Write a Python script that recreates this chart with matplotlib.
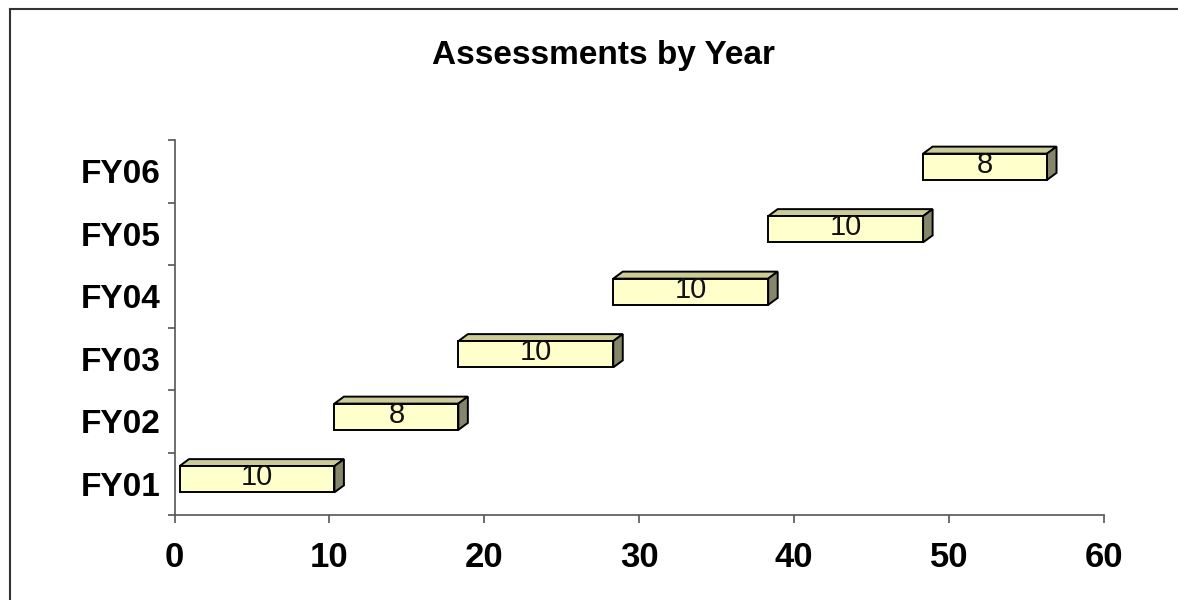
import matplotlib
matplotlib.use("Agg")
import matplotlib.pyplot as plt
from matplotlib.patches import Polygon, Rectangle
from matplotlib.lines import Line2D

# Assessment schedule: each fiscal year starts where the previous one ends
years = ["FY01", "FY02", "FY03", "FY04", "FY05", "FY06"]
starts = [0, 10, 18, 28, 38, 48]
counts = [10, 8, 10, 10, 10, 8]
x_ticks = [0, 10, 20, 30, 40, 50, 60]

FRONT = "#FFFFCC"
TOP = "#CCCC99"
SIDE = "#86866A"
EDGE = "#000000"
AXIS = "#555555"

plt.rcParams['font.family'] = ['Liberation Sans', 'DejaVu Sans']

W, H = 1178, 600
fig = plt.figure(figsize=(W / 100, H / 100), dpi=100)
ax = fig.add_axes([174.5 / W, 85 / H, (1104 - 174.5) / W, 375 / H])
ax.set_xlim(0, 60)
ax.set_ylim(-0.5, len(years) - 0.5)

# pixel sizes of the 3-D look, converted to data units
ppx = ax.bbox.width / 60
ppy = ax.bbox.height / len(years)
shift_x, shift_y = 5 / ppx, 4.5 / ppy
depth_x, depth_y = 9.5 / ppx, 7 / ppy
label_lift = 2 / ppy
bar_h = 0.42

for i, (s, c) in enumerate(zip(starts, counts)):
    x0 = s + shift_x
    x1 = s + c + shift_x
    yb = i + shift_y - bar_h / 2
    yt = i + shift_y + bar_h / 2
    # top face
    ax.add_patch(Polygon([(x0, yt), (x1, yt), (x1 + depth_x, yt + depth_y),
                          (x0 + depth_x, yt + depth_y)], closed=True,
                         facecolor=TOP, edgecolor=EDGE, lw=1.4, zorder=3,
                         joinstyle='miter', clip_on=False))
    # side face
    ax.add_patch(Polygon([(x1, yb), (x1, yt), (x1 + depth_x, yt + depth_y),
                          (x1 + depth_x, yb + depth_y)], closed=True,
                         facecolor=SIDE, edgecolor=EDGE, lw=1.4, zorder=3,
                         joinstyle='miter', clip_on=False))
    # front face
    ax.add_patch(Rectangle((x0, yb), c, bar_h, facecolor=FRONT,
                           edgecolor=EDGE, lw=1.4, zorder=4, joinstyle='miter',
                           clip_on=False))
    ax.text(s + c / 2 + shift_x, i + shift_y + label_lift, str(c),
            ha='center', va='center', fontsize=21, color='#111111', zorder=5)

for side in ("top", "right"):
    ax.spines[side].set_visible(False)
for side in ("left", "bottom"):
    ax.spines[side].set_color(AXIS)
    ax.spines[side].set_linewidth(1.2)

ax.set_xticks(x_ticks)
ax.set_xticklabels([str(t) for t in x_ticks], fontsize=25, fontweight='bold')
ax.tick_params(axis='x', direction='out', length=6, width=1.2, color=AXIS,
               pad=13)

ax.set_yticks(range(len(years)))
ax.set_yticklabels(years, fontsize=24, fontweight='bold')
ax.set_yticks([i - 0.5 for i in range(len(years) + 1)], minor=True)
ax.tick_params(axis='y', which='major', length=0, pad=10)
ax.tick_params(axis='y', which='minor', direction='out', length=5, width=1.2,
               color=AXIS)

fig.text(603 / W, 1 - 64 / H, "Assessments by Year", ha='center',
         va='baseline', fontsize=24, fontweight='bold')

# chart frame (left and top edges visible)
fig.add_artist(Line2D([9.5 / W, 9.5 / W], [0, 1 - 8.5 / H],
                      transform=fig.transFigure, color='#333333', lw=1.5))
fig.add_artist(Line2D([9.5 / W, 1], [1 - 8.5 / H, 1 - 8.5 / H],
                      transform=fig.transFigure, color='#333333', lw=1.5))

fig.savefig("out.png", dpi=100, facecolor='white')
